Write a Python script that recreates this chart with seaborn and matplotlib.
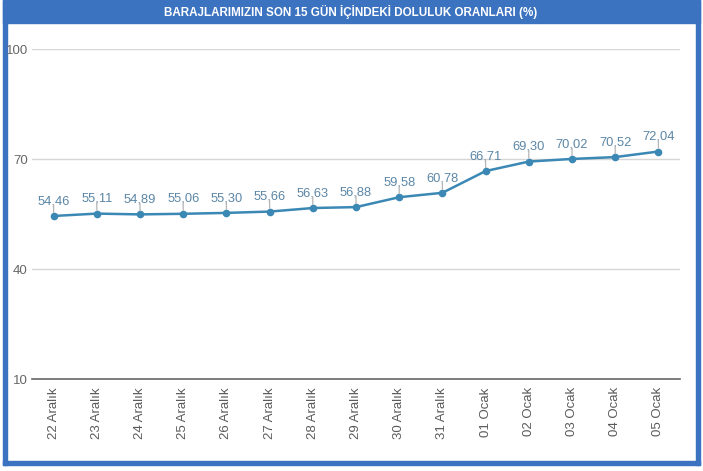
import pandas as pd
import matplotlib.pyplot as plt
import seaborn as sns
from matplotlib.patches import Rectangle

# Data
days = ['22 Aralık', '23 Aralık', '24 Aralık', '25 Aralık', '26 Aralık',
        '27 Aralık', '28 Aralık', '29 Aralık', '30 Aralık', '31 Aralık',
        '01 Ocak', '02 Ocak', '03 Ocak', '04 Ocak', '05 Ocak']
rates = [54.46, 55.11, 54.89, 55.06, 55.30, 55.66, 56.63, 56.88, 59.58, 60.78,
         66.71, 69.30, 70.02, 70.52, 72.04]
yticks = [10, 40, 70, 100]

df = pd.DataFrame({'pos': range(len(days)), 'day': days, 'rate': rates})

sns.set_style('white')
plt.rcParams['font.family'] = ['Liberation Sans', 'DejaVu Sans']

W, H = 703, 471
fig = plt.figure(figsize=(W / 100, H / 100), dpi=100)
ax = fig.add_axes([32 / W, 1 - 379 / H, 648 / W, 330 / H])

line_c = '#3b88b5'
sns.lineplot(data=df, x='pos', y='rate', ax=ax, color=line_c, linewidth=1.8,
             marker='o', markersize=5.5, markeredgewidth=0, sort=False)

for x, y in zip(df['pos'], df['rate']):
    ax.annotate(f'{y:.2f}'.replace('.', ','), xy=(x, y), xytext=(0, 8.5),
                textcoords='offset points', ha='center', va='baseline',
                fontsize=9.3, color='#5b86a6')
    ax.annotate('', xy=(x, y), xytext=(0, 8), textcoords='offset points',
                arrowprops=dict(arrowstyle='-', color='#b5b5b5', lw=0.9,
                                shrinkA=0, shrinkB=2.5))

ax.set_xlim(-0.5, len(days) - 0.5)
ax.set_ylim(10, 100)
ax.set_yticks(yticks)
ax.set_xticks(df['pos'])
ax.set_xticklabels(days, rotation=90, fontsize=9.5, color='#5a5a5a')
ax.tick_params(axis='y', labelsize=9.5, labelcolor='#666666', length=0, pad=3)
ax.tick_params(axis='x', length=0, pad=6)
for yv in yticks[1:]:
    ax.axhline(yv, color='#d6d6d6', lw=1, zorder=0)
ax.set_xlabel('')
ax.set_ylabel('')
for s in ['top', 'right', 'left']:
    ax.spines[s].set_visible(False)
ax.spines['bottom'].set_color('#666666')
ax.spines['bottom'].set_linewidth(1.2)

# Blue frame and title band
blue = '#3b73c0'
def px_rect(x0, y0, x1, y1):
    fig.patches.append(Rectangle((x0 / W, 1 - y1 / H), (x1 - x0) / W, (y1 - y0) / H,
                                 transform=fig.transFigure, color=blue, zorder=-1))

px_rect(3, 0, 700, 23)
px_rect(3, 0, 7, 465)
px_rect(696, 0, 700, 465)
px_rect(3, 461, 700, 465)
fig.text(351 / W, 1 - 12 / H, 'BARAJLARIMIZIN SON 15 GÜN İÇİNDEKİ DOLULUK ORANLARI (%)',
         ha='center', va='center', color='white', fontsize=8.4, fontweight='bold')

fig.savefig('out.png', dpi=100)
